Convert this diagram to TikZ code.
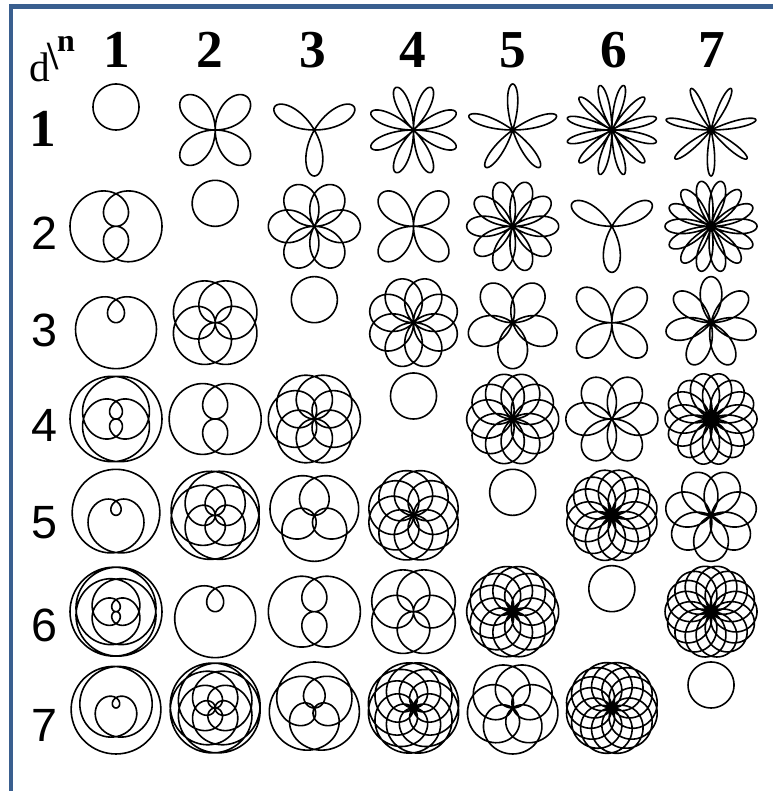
\documentclass[tikz,border=0pt]{standalone}
\usepackage{fontspec}
\setmainfont{Liberation Serif}
\setsansfont{Liberation Sans}
\definecolor{frame}{HTML}{3A5F8F}

\begin{document}
\begin{tikzpicture}[x=0.75pt,y=-0.75pt,
    rose/.style={line width=1.2pt,line join=round},
    numlab/.style={font=\bfseries\fontsize{40}{40}\selectfont,inner sep=0pt},
    rowlab/.style={font=\sffamily\fontsize{35}{35}\selectfont,inner sep=0pt}]
  \useasboundingbox (0,0) rectangle (773,791);
  % frame, only top and left edges show
  \fill[frame] (9,4) rectangle (773,9);
  \fill[frame] (9,4) rectangle (13,791);
  % corner and headers
  \node[inner sep=0pt,anchor=base west] (dn) at (29,82)
    {\fontsize{31}{31}\selectfont d\hspace{-2pt}%
     \raisebox{9pt}{\fontsize{30}{30}\selectfont\bfseries\textbackslash}%
     \hspace{-1pt}\raisebox{23pt}{\fontsize{24}{24}\selectfont\bfseries n}};
  \foreach \n/\hx in {1/117,2/210,3/313,4/413,5/513,6/614,7/712}
    \node[numlab] (h\n) at (\hx,50) {\n};
  \node[numlab] (r1) at (43,129) {1};
  \foreach \d/\ry in {2/233,3/330,4/425,5/523,6/625,7/725}
    \node[rowlab] (r\d) at (44,\ry) {\d};
  % roses r = sin(n/d theta)
  \foreach \d in {1,...,7}{
    \foreach \n in {1,...,7}{
      \pgfmathsetmacro\k{\n/\d}
      \pgfmathtruncatemacro\g{gcd(\n,\d)}
      \pgfmathtruncatemacro\m{\d/\g}
      \pgfmathtruncatemacro\p{\n/\g}
      \pgfmathtruncatemacro\ns{60*(\p+\m)+1}
      \begin{scope}[shift={({116+(\n-1)*99.17},{130+(\d-1)*96.33})}]
        \draw[rose] plot[domain=0:360*\m,samples=\ns,variable=\t]
          ({46*sin(\k*\t)*cos(\t)},{-46*sin(\k*\t)*sin(\t)}) -- cycle;
      \end{scope}
    }
  }
\end{tikzpicture}
\end{document}
